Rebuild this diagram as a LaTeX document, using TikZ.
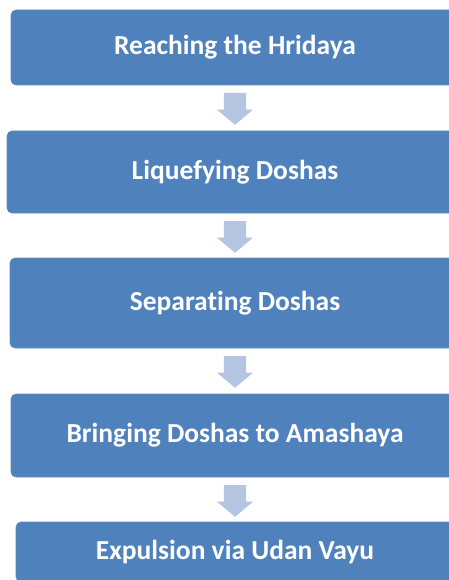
\documentclass[tikz,border=0pt]{standalone}
\usepackage{fontspec}
\setmainfont{Carlito}[Ligatures=NoCommon]
\usepackage{tikz}
\usetikzlibrary{positioning,shapes.arrows}
\definecolor{stepblue}{HTML}{4F81BD}
\definecolor{stepedge}{HTML}{5A8AC2}
\definecolor{arrowblue}{HTML}{B4C5E2}

\begin{document}
\begin{tikzpicture}[
  x=1pt, y=1pt,
  flowbox/.style={
    draw=stepedge,
    fill=stepblue,
    rounded corners=5pt,
    line width=0.6pt,
    inner sep=0pt,
    align=center,
    text=white,
    font=\fontsize{27.5}{32}\selectfont\bfseries
  },
  downarrow/.style={
    single arrow,
    fill=arrowblue,
    draw=none,
    shape border rotate=270,
    minimum height=30pt,
    inner sep=11pt,
    single arrow head extend=7pt,
    single arrow tip angle=100,
    anchor=tail
  }
]
  \useasboundingbox (0,0) rectangle (449,-580);

  % Process steps (boxes run past the right edge)
  \node[flowbox, minimum width=448pt, minimum height=75pt] (b1) at (235,-47.5) {Reaching the Hridaya};
  \node[flowbox, minimum width=456pt, minimum height=82pt] (b2) at (235,-172) {Liquefying Doshas};
  \node[flowbox, minimum width=450pt, minimum height=90pt] (b3) at (235,-303) {Separating Doshas};
  \node[flowbox, minimum width=448pt, minimum height=83pt] (b4) at (235,-435.5) {Bringing Doshas to Amashaya};
  \node[flowbox, minimum width=438pt, minimum height=60pt] (b5) at (235,-552) {Expulsion via Udan Vayu};

  % Block arrows between steps
  \node[downarrow] (a1) at ([yshift=-7.5pt]b1.south) {};
  \node[downarrow] (a2) at ([yshift=-7.5pt]b2.south) {};
  \node[downarrow] (a3) at ([yshift=-7.5pt]b3.south) {};
  \node[downarrow] (a4) at ([yshift=-7.5pt]b4.south) {};

\end{tikzpicture}
\end{document}
